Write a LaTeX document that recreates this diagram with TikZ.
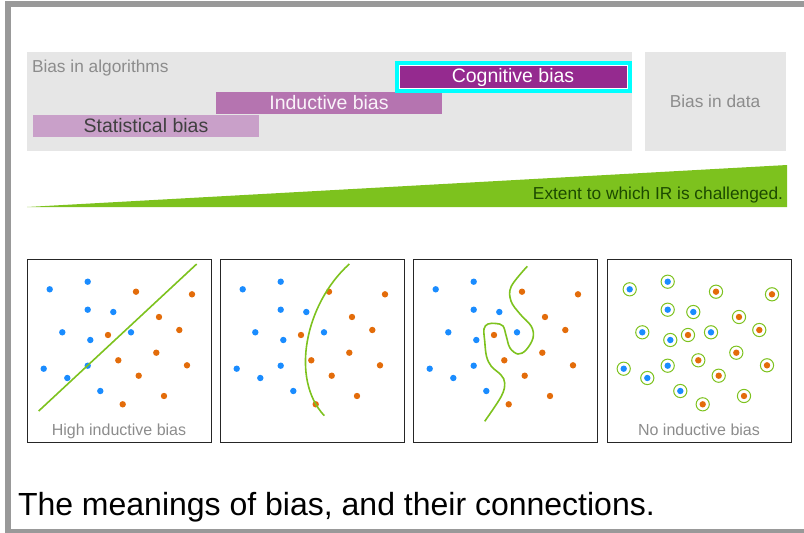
\documentclass[tikz,border=0pt]{standalone}
\usepackage{fontspec}
\setmainfont{Liberation Sans}
\usepackage{tikz}
\usetikzlibrary{positioning,calc}
\definecolor{framegray}{HTML}{999999}
\definecolor{boxgray}{HTML}{E6E6E6}
\definecolor{txtgray}{HTML}{8C8C8C}
\definecolor{cogpurple}{HTML}{952A8F}
\definecolor{indpurple}{HTML}{B574B0}
\definecolor{statpurple}{HTML}{C9A0C9}
\definecolor{leafgreen}{HTML}{7DC21E}
\definecolor{darkgreen}{HTML}{1C4A00}
\definecolor{dotblue}{HTML}{1A8CFF}
\definecolor{dotorange}{HTML}{E36C0A}
\definecolor{hlcyan}{HTML}{00FFFF}
\newcommand{\bluedots}{22.7/30.3,60.7/22.7,60.7/50.7,86.3/53,35.3/73.3,63.3/81,104/73.3,16.7/109.7,40.3/119,60.7/106.7,73.3/132}
\newcommand{\orangedots}{109/32.7,165/35.3,132/58,152.3/71,81/76,129.3/93.7,91.3/101.3,160/106.3,111.7/116.7,137/137,95.7/145.3}

\begin{document}
\begin{tikzpicture}[x=1pt,y=-1pt,
  every node/.style={inner sep=0pt,outer sep=0pt},
  greybox/.style={fill=boxgray,minimum width=#1,minimum height=99pt},
  biasbar/.style={minimum width=226pt,minimum height=22pt,font=\fontsize{19.5}{20}\selectfont},
  panel/.style={draw=black!85,line width=1pt,minimum width=184pt,minimum height=183pt},
  panellabel/.style={anchor=base,text=txtgray,font=\fontsize{16}{18}\selectfont},
  border/.style={line width=1.6pt,draw=leafgreen}]
\useasboundingbox (0,0) rectangle (804,533);
\draw[framegray,line width=6pt] (8,4) rectangle (812,532);

% bias in algorithms / bias in data
\node[greybox=605pt] (alg) at (329.5,101.5) {};
\node[anchor=base west,text=txtgray,font=\fontsize{17.3}{18}\selectfont] (algtxt) at (32,72) {Bias in algorithms};
\node[greybox=141pt,text=txtgray,font=\fontsize{17.3}{18}\selectfont] (data) at (715,101.5) {Bias in data};

\node[biasbar,fill=statpurple,text=black!75] (stat) at (146,126) {Statistical bias};
\node[biasbar,fill=indpurple,text=white!92!indpurple] (ind) at (329,102.5) {Inductive bias};
\node[biasbar,minimum width=228pt,minimum height=23pt,fill=cogpurple,draw=white,line width=.8pt,text=white] (cog) at (513,77) {Cognitive bias};
\draw[hlcyan,line width=4pt] ([shift={(-2.5pt,-2.5pt)}]cog.south west) rectangle ([shift={(2.5pt,2.5pt)}]cog.north east);

% wedge
\fill[leafgreen] (27,207) -- (787,165) -- (787,207) -- cycle;
\node[anchor=base east,text=darkgreen,font=\fontsize{17.3}{18}\selectfont] (ext) at (783,199) {Extent to which IR is challenged.};

% the four panels
\foreach \n/\px in {1/27,2/220,3/413,4/607}{
  \node[panel] (p\n) at (\px+92,350.5) {};
  \begin{scope}[shift={(\px,259)}]
    \foreach \a/\b in \bluedots{\fill[dotblue] (\a,\b) circle (3.2pt);}
    \foreach \a/\b in \orangedots{\fill[dotorange] (\a,\b) circle (3.2pt);}
  \end{scope}
}
\begin{scope}[shift={(27,259)}]
  \draw[border] (11.7,152) -- (169.7,5);
\end{scope}
\begin{scope}[shift={(220,259)}]
  \draw[border] (129.3,5) .. controls (85,45) and (70,120) .. (104.3,156.7);
\end{scope}
\begin{scope}[shift={(413,259)}]
  \draw[border] plot[smooth,tension=.6] coordinates {(114.3,7.3) (98.3,27.3) (98,42) (107,55) (118.3,67.3) (120,79) (113,91) (105,95) (97,89) (93.3,77.3) (90,67) (83,64.5) (75,65) (71,70) (71.7,82) (73.5,97.3) (78.3,107.3) (88,116) (91.7,124) (88.3,137.3) (71.7,162.3)};
\end{scope}
\begin{scope}[shift={(607,259)}]
  \foreach \a/\b in \bluedots{\draw[leafgreen,line width=1pt] (\a,\b) circle (6.6pt);}
  \foreach \a/\b in \orangedots{\draw[leafgreen,line width=1pt] (\a,\b) circle (6.6pt);}
\end{scope}
\node[panellabel] (l1) at ([yshift=7pt]p1.south) {High inductive bias};
\node[panellabel] (l4) at ([yshift=7pt]p4.south) {No inductive bias};

% caption
\node[anchor=base west,font=\fontsize{32}{34}\selectfont] (cap) at (18,515) {The meanings of bias, and their connections.};
\end{tikzpicture}
\end{document}
